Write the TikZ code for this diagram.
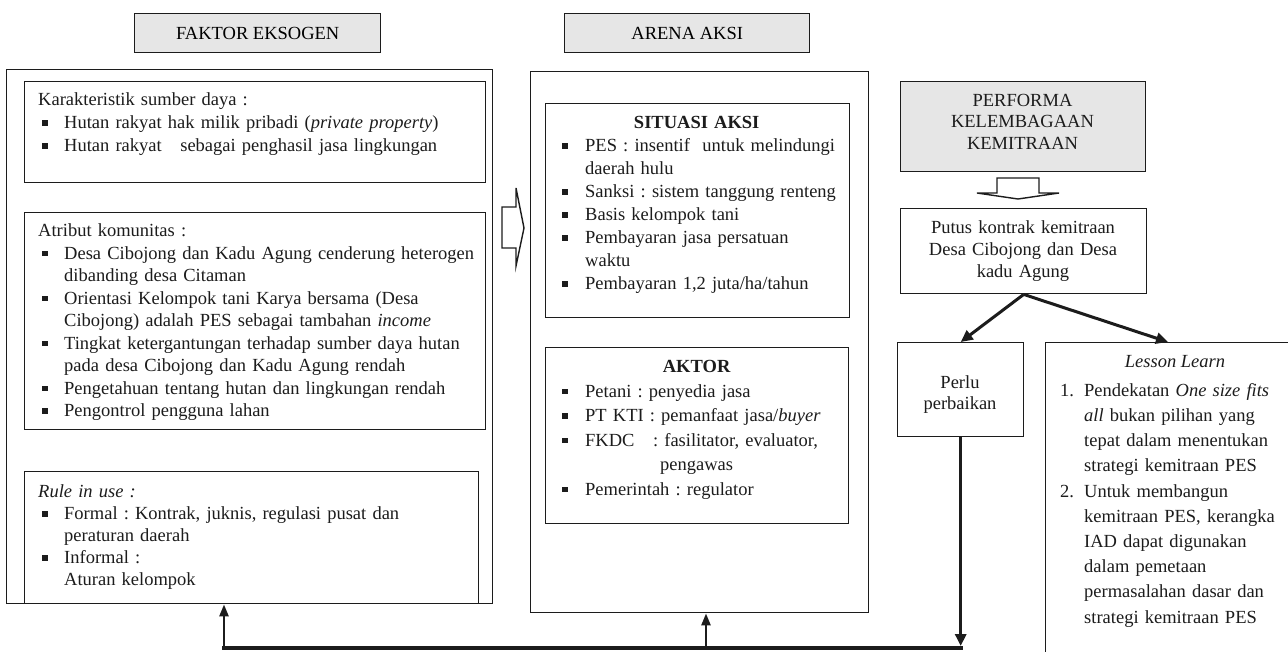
\documentclass[tikz,border=0pt]{standalone}
\usepackage{fontspec}
\setmainfont{Liberation Serif}
\usetikzlibrary{arrows.meta,calc}
\definecolor{hdrgray}{HTML}{E6E6E6}
\definecolor{ink}{HTML}{1C1C1C}
\frenchspacing
\newcommand{\sqb}{\raisebox{3pt}{\rule{5.5pt}{5.5pt}}}
\newcommand{\bitem}[2][26pt]{\par\noindent\hangindent=#1\hangafter=1\makebox[#1][l]{\hspace{4pt}\sqb}\strut#2}
\newcommand{\nitem}[2]{\par\noindent\hangindent=24pt\hangafter=1\makebox[24pt][l]{#1}\strut#2}
\newcommand{\hd}[1]{\noindent\strut#1}
\newcommand{\chd}[2][\linewidth]{\noindent\makebox[#1][c]{\strut#2}}
\tikzset{
  box/.style={draw=ink, line width=1.4pt, inner sep=0pt, anchor=north west},
  hdr/.style={box, fill=hdrgray, font=\fontsize{18.5}{22}\selectfont},
  txt/.style={anchor=north west, inner sep=0pt, align=left, text=ink},
  ctxt/.style={anchor=north, inner sep=0pt, align=center, text=ink},
  blockarrow/.style={draw=ink, line width=1.4pt, fill=white, line join=miter},
  conn/.style={draw=ink, line width=3pt, -{Triangle[length=12pt,width=11pt]}},
  upconn/.style={draw=ink, line width=2.5pt, -{Triangle[length=12pt,width=9pt]}},
  busline/.style={draw=ink, line width=4pt, line cap=rect},
}
\begin{document}
\begin{tikzpicture}[x=1pt, y=-1pt]
\useasboundingbox (0,0) rectangle (1288,651);
\fill[white] (0,0) rectangle (1288,651);
\begin{scope}
\clip (0,0) rectangle (1288,651);

% headers
\node[hdr, minimum width=246, minimum height=39] (fak) at (134,13) {FAKTOR EKSOGEN};
\node[hdr, minimum width=245, minimum height=39] (are) at (564,13) {ARENA AKSI};

% left column
\node[box, minimum width=486, minimum height=534] (L) at (6,69) {};
\node[box, minimum width=461, minimum height=101] (kar) at (24,81) {};
\node[box, minimum width=461, minimum height=217] (atr) at (24,212) {};
\node[box, minimum width=454, minimum height=132] (rul) at (24,471) {};

\node[txt, text width=440, font=\fontsize{18.5}{23}\selectfont] (kart) at (38,89.4) {%
\hd{Karakteristik sumber daya :}
\bitem{Hutan rakyat hak milik pribadi (\textit{private property})}
\bitem{Hutan rakyat \ \ sebagai penghasil jasa lingkungan}\par};

\node[txt, text width=440, font=\fontsize{18.5}{22.5}\selectfont] (atrt) at (38,220.8) {%
\hd{Atribut komunitas :}
\bitem{Desa Cibojong dan Kadu Agung cenderung heterogen\newline dibanding desa Citaman}
\bitem{Orientasi Kelompok tani Karya bersama (Desa\newline Cibojong) adalah PES sebagai tambahan \textit{income}}
\bitem{Tingkat ketergantungan terhadap sumber daya hutan\newline pada desa Cibojong dan Kadu Agung rendah}
\bitem{Pengetahuan tentang hutan dan lingkungan rendah}
\bitem{Pengontrol pengguna lahan}\par};

\node[txt, text width=430, font=\fontsize{18.5}{22}\selectfont] (rult) at (38,482.1) {%
\hd{\textit{Rule in use :}}
\bitem{Formal : Kontrak, juknis, regulasi pusat dan\newline peraturan daerah}
\bitem{Informal :\newline Aturan kelompok}\par};

% block arrow right
\draw[blockarrow] (502,207) -- (516,207) -- (516,188) -- (524,228) -- (516,266) -- (516,248) -- (502,248) -- cycle;

% arena column
\node[box, minimum width=338, minimum height=541] (A) at (530,71) {};
\node[box, minimum width=304, minimum height=214] (sit) at (545,103) {};
\node[box, minimum width=303, minimum height=176] (akt) at (545,347) {};

\node[txt, text width=300, font=\fontsize{18.5}{23}\selectfont] (sitt) at (558,112.4) {%
\chd[277pt]{\textbf{SITUASI AKSI}}
\bitem[27pt]{PES : insentif \ untuk melindungi\newline daerah hulu}
\bitem[27pt]{Sanksi : sistem tanggung renteng}
\bitem[27pt]{Basis kelompok tani}
\bitem[27pt]{Pembayaran jasa persatuan\newline waktu}
\bitem[27pt]{Pembayaran 1,2 juta/ha/tahun}\par};

\node[txt, text width=300, font=\fontsize{18.5}{24.5}\selectfont] (aktt) at (558,355.4) {%
\chd[277pt]{\textbf{AKTOR}}
\bitem[27pt]{Petani : penyedia jasa}
\bitem[27pt]{PT KTI : pemanfaat jasa/\textit{buyer}}
\bitem[27pt]{FKDC \ \ : fasilitator, evaluator,\newline\hspace*{75pt}pengawas}
\bitem[27pt]{Pemerintah : regulator}\par};

% right column
\node[box, fill=hdrgray, minimum width=245, minimum height=90] (perf) at (900,81) {};
\node[ctxt, text width=240, font=\fontsize{18.5}{21.5}\selectfont] (perft) at (1022.5,91) {\strut PERFORMA\\KELEMBAGAAN\\KEMITRAAN};

\draw[blockarrow] (997,178) -- (1039,178) -- (1039,193) -- (1059,193) -- (1018,199) -- (977,193) -- (997,193) -- cycle;

\node[box, minimum width=246, minimum height=85] (put) at (900,208) {};
\node[ctxt, text width=240, font=\fontsize{18.5}{22}\selectfont] (putt) at (1023,218.1) {\strut Putus kontrak kemitraan\\Desa Cibojong dan Desa\\kadu Agung};

\node[box, minimum width=126, minimum height=94] (per) at (897,342) {};
\node[ctxt, text width=120, font=\fontsize{18.5}{21}\selectfont] (pert) at (960,373.8) {\strut Perlu\\perbaikan};

\node[box, minimum width=270, minimum height=330] (les) at (1045,342) {};
\node[anchor=base, inner sep=0pt, text=ink, font=\fontsize{18.5}{22}\selectfont] (lesh) at (1175,367.5) {\textit{Lesson Learn}};
\node[txt, text width=228, font=\fontsize{18.5}{25.2}\selectfont] (lest) at (1060,370.9) {%
\nitem{1.}{Pendekatan \textit{One size fits}\newline \textit{all} bukan pilihan yang\newline tepat dalam menentukan\newline strategi kemitraan PES}
\nitem{2.}{Untuk membangun\newline kemitraan PES, kerangka\newline IAD dapat digunakan\newline dalam pemetaan\newline permasalahan dasar dan\newline strategi kemitraan PES}\par};

% connectors
\coordinate (lestip) at ($(les.north west)+(123,0)$);
\draw[conn] (put.south) -- (per.north);
\draw[conn] (put.south) -- (lestip);

\coordinate (hb) at (0,648);
\coordinate (hl) at (224,648);
\coordinate (hm) at (706,648);
\coordinate (hr) at (per.south |- hb);
\draw[busline] (hl) -- (hr);
\draw[conn, line width=3.2pt] (per.south) -- ($(hr)+(0,-2)$);
\draw[upconn] (hl) -- (hl |- L.south);
\draw[upconn] (hm) -- (hm |- A.south);
\end{scope}
\end{tikzpicture}
\end{document}
